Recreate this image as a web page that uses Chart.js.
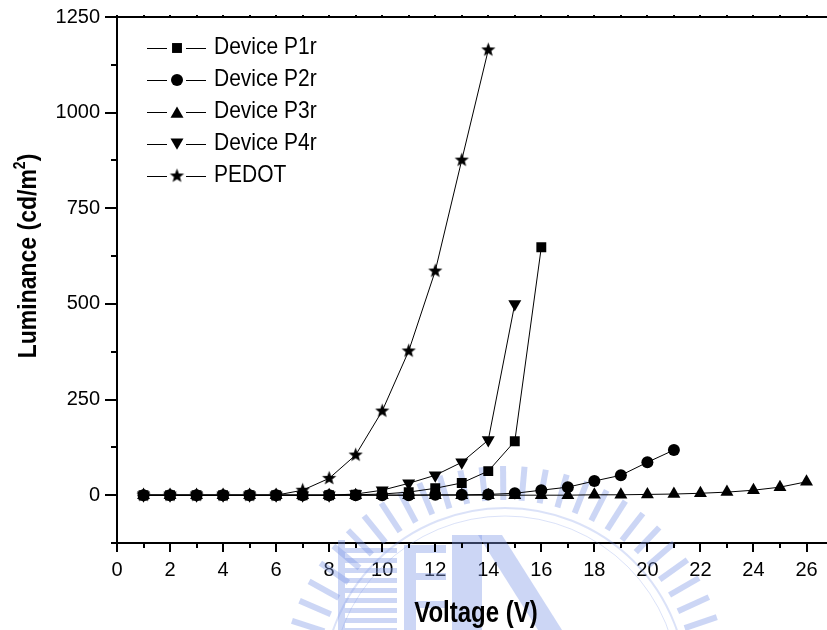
<!DOCTYPE html>
<html>
<head>
<meta charset="utf-8">
<script src="https://cdn.jsdelivr.net/npm/chart.js@4.4.1/dist/chart.umd.min.js"></script>
<style>
  html, body { margin: 0; padding: 0; background: #ffffff; }
  #wrap { width: 827px; height: 630px; position: relative; }
</style>
</head>
<body>
<div id="wrap"><canvas id="c" width="827" height="630"></canvas></div>
<script>
// Driving voltage (V) for each measured step
const voltage = [1, 2, 3, 4, 5, 6, 7, 8, 9, 10, 11, 12, 13, 14, 15, 16, 17, 18, 19, 20, 21, 22, 23, 24, 25, 26];

// Luminance (cd/m^2) per device, one value per voltage step
const lumP1r = [0, 0, 0, 0, 0, 0, 0, 0, 1, 3, 8, 18, 32, 63, 141, 648];
const lumP2r = [0, 0, 0, 0, 0, 0, 0, 0, 0, 0, 0, 1, 1, 2, 5, 13, 21, 37, 52, 86, 118];
const lumP3r = [0, 0, 0, 0, 0, 0, 0, 0, 0, 0, 0, 0, 0, 0, 0, 0, 0, 1, 1, 2, 3, 5, 8, 13, 21, 35];
const lumP4r = [0, 0, 0, 0, 0, 0, 0, 0, 3, 13, 31, 52, 86, 144, 500];
const lumPEDOT = [0, 0, 0, 0, 0, 0, 13, 44, 105, 220, 377, 586, 876, 1164];

const seriesNames = ['Device P1r', 'Device P2r', 'Device P3r', 'Device P4r', 'PEDOT'];

// Axis ticks
const xMajorStep = 2;
const xMinorStep = 1;
const yTickValues = [0, 250, 500, 750, 1000, 1250];
const yMinorStep = 125;

const FONT = '"Liberation Sans", Arial, Helvetica, sans-serif';

// Five-pointed star marker
function makeStar(R) {
  const s = Math.ceil(R * 2 + 2);
  const c = document.createElement('canvas');
  c.width = s; c.height = s;
  const g = c.getContext('2d');
  g.fillStyle = '#000';
  g.beginPath();
  for (let i = 0; i < 10; i++) {
    const r = i % 2 ? R * 0.42 : R;
    const a = -Math.PI / 2 + i * Math.PI / 5;
    g.lineTo(s / 2 + r * Math.cos(a), s / 2 + r * Math.sin(a));
  }
  g.closePath();
  g.fill();
  return c;
}
const starImg = makeStar(7.5);

function pts(values) {
  return values.map((v, i) => ({ x: voltage[i], y: v }));
}

const markers = [
  { pointStyle: 'rect', radius: 7, rotation: 0 },
  { pointStyle: 'circle', radius: 6, rotation: 0 },
  { pointStyle: 'triangle', radius: 7.5, rotation: 0 },
  { pointStyle: 'triangle', radius: 7.5, rotation: 180 },
  { pointStyle: starImg, radius: 7.5, rotation: 0 }
];
const seriesValues = [lumP1r, lumP2r, lumP3r, lumP4r, lumPEDOT];

const datasets = seriesValues.map((vals, i) => ({
  label: seriesNames[i],
  data: pts(vals),
  borderColor: '#000',
  backgroundColor: '#000',
  borderWidth: 1,
  pointStyle: markers[i].pointStyle,
  pointRadius: markers[i].radius,
  pointRotation: markers[i].rotation,
  pointBackgroundColor: '#000',
  pointBorderColor: '#000',
  pointBorderWidth: 0,
  tension: 0,
  fill: false
}));

// Faint institutional emblem printed behind the lower part of the plot
const emblemPlugin = {
  id: 'emblem',
  beforeDatasetsDraw(chart) {
    const ctx = chart.ctx;
    const cx = 505, cy = 690;
    ctx.save();
    ctx.globalAlpha = 0.4;
    ctx.fillStyle = '#7f98e6';
    ctx.strokeStyle = '#7f98e6';
    // radial stripes forming the outer wheel
    for (let deg = 0; deg < 360; deg += 5.5) {
      const a = deg * Math.PI / 180;
      ctx.save();
      ctx.translate(cx, cy);
      ctx.rotate(a);
      ctx.fillRect(190, -3, 34, 6);
      ctx.restore();
    }
    // inner rings
    ctx.globalAlpha = 0.28;
    ctx.lineWidth = 2;
    ctx.beginPath(); ctx.arc(cx, cy, 182, 0, Math.PI * 2); ctx.stroke();
    ctx.lineWidth = 1;
    ctx.beginPath(); ctx.arc(cx, cy, 174, 0, Math.PI * 2); ctx.stroke();
    ctx.globalAlpha = 0.4;
    // striped building
    for (let y = 548; y < 630; y += 10) ctx.fillRect(345, y, 52, 5);
    ctx.fillRect(338, 540, 7, 90);
    // central blocks
    ctx.fillRect(404, 545, 12, 85);
    ctx.fillRect(416, 545, 30, 8);
    ctx.fillRect(416, 573, 30, 7);
    ctx.fillRect(416, 601, 30, 7);
    ctx.fillRect(452, 535, 30, 95);
    // diagonal arrow shape
    ctx.beginPath();
    ctx.moveTo(478, 535); ctx.lineTo(502, 535); ctx.lineTo(562, 630);
    ctx.lineTo(538, 630);
    ctx.closePath();
    ctx.fill();
    ctx.restore();
  }
};

function drawMarker(ctx, m, x, y) {
  ctx.save();
  ctx.fillStyle = '#000';
  const r = m.radius;
  if (m.pointStyle === 'rect') {
    const s = Math.SQRT1_2 * r;
    ctx.fillRect(x - s, y - s, 2 * s, 2 * s);
  } else if (m.pointStyle === 'circle') {
    ctx.beginPath(); ctx.arc(x, y, r, 0, Math.PI * 2); ctx.fill();
  } else if (m.pointStyle === 'triangle') {
    ctx.translate(x, y);
    ctx.rotate(m.rotation * Math.PI / 180);
    ctx.beginPath();
    for (let k = 0; k < 3; k++) {
      const a = -Math.PI / 2 + k * 2 * Math.PI / 3;
      ctx.lineTo(r * Math.cos(a), r * Math.sin(a) + r * 0.25);
    }
    ctx.closePath(); ctx.fill();
  } else {
    ctx.drawImage(m.pointStyle, x - m.pointStyle.width / 2, y - m.pointStyle.height / 2);
  }
  ctx.restore();
}

// Axis frame, tick marks, titles and the line-and-marker legend
const framePlugin = {
  id: 'frame',
  afterDraw(chart) {
    const ctx = chart.ctx;
    const xs = chart.scales.x, ys = chart.scales.y;
    const area = chart.chartArea;
    ctx.save();
    ctx.strokeStyle = '#000';
    ctx.lineWidth = 2;
    // top frame line and bottom axis running to the edge
    ctx.beginPath();
    ctx.moveTo(area.left - 1, area.top);
    ctx.lineTo(827, area.top);
    ctx.moveTo(area.right - 2, area.bottom);
    ctx.lineTo(827, area.bottom);
    ctx.stroke();
    // x ticks
    for (let v = 0; v <= 26; v += xMinorStep) {
      const px = Math.round(xs.getPixelForValue(v));
      const len = v % xMajorStep === 0 ? 9 : 5;
      ctx.beginPath();
      ctx.moveTo(px, area.bottom);
      ctx.lineTo(px, area.bottom + len);
      ctx.stroke();
      ctx.beginPath();
      ctx.moveTo(px, area.top);
      ctx.lineTo(px, area.top - 2);
      ctx.stroke();
    }
    // y ticks
    for (let v = -125; v <= 1250; v += yMinorStep) {
      const py = Math.round(ys.getPixelForValue(v));
      const len = v % 250 === 0 ? 12 : 6;
      ctx.beginPath();
      ctx.moveTo(area.left, py);
      ctx.lineTo(area.left - len, py);
      ctx.stroke();
    }
    // axis titles
    ctx.fillStyle = '#000';
    ctx.font = 'bold 24px ' + FONT;
    ctx.textAlign = 'center';
    ctx.textBaseline = 'alphabetic';
    ctx.save();
    ctx.translate(476, 622);
    ctx.scale(1, 1.2);
    ctx.fillText('Voltage (V)', 0, 0);
    ctx.restore();

    ctx.save();
    ctx.translate(36, 256);
    ctx.rotate(-Math.PI / 2);
    ctx.scale(1, 1.15);
    ctx.font = 'bold 23px ' + FONT;
    const main = 'Luminance (cd/m';
    const wMain = ctx.measureText(main).width;
    ctx.font = 'bold 14px ' + FONT;
    const wSup = ctx.measureText('2').width;
    ctx.font = 'bold 23px ' + FONT;
    const wClose = ctx.measureText(')').width;
    const total = wMain + wSup + wClose;
    const x0 = -total / 2;
    ctx.textAlign = 'left';
    ctx.fillText(main, x0, 0);
    ctx.font = 'bold 14px ' + FONT;
    ctx.fillText('2', x0 + wMain, -10);
    ctx.font = 'bold 23px ' + FONT;
    ctx.fillText(')', x0 + wMain + wSup, 0);
    ctx.restore();

    // legend
    ctx.font = '21px ' + FONT;
    ctx.textAlign = 'left';
    ctx.textBaseline = 'middle';
    ctx.lineWidth = 1;
    ctx.strokeStyle = '#000';
    for (let i = 0; i < seriesNames.length; i++) {
      const y = 48 + i * 32;
      ctx.beginPath();
      ctx.moveTo(147, y + 0.5); ctx.lineTo(167, y + 0.5);
      ctx.moveTo(186, y + 0.5); ctx.lineTo(206, y + 0.5);
      ctx.stroke();
      drawMarker(ctx, markers[i], 177, y);
      ctx.save();
      ctx.translate(214, y);
      ctx.scale(1, 1.12);
      ctx.fillText(seriesNames[i], 0, 0);
      ctx.restore();
    }
    ctx.restore();
  }
};

function noOverhang(scale) {
  scale.paddingTop = 0;
  scale.paddingBottom = 0;
  scale.paddingLeft = 0;
  scale.paddingRight = 0;
}

new Chart(document.getElementById('c'), {
  type: 'line',
  data: { datasets },
  options: {
    responsive: false,
    animation: false,
    devicePixelRatio: 1,
    layout: { padding: { top: 17, right: 0, left: 0, bottom: 0 } },
    plugins: {
      legend: { display: false },
      tooltip: { enabled: false }
    },
    scales: {
      x: {
        type: 'linear',
        min: 0,
        max: 26.49,
        afterFit(scale) { scale.height = 87; noOverhang(scale); },
        border: { display: true, color: '#000', width: 2 },
        grid: { display: false, drawTicks: false },
        ticks: {
          stepSize: xMinorStep,
          includeBounds: false,
          autoSkip: false,
          maxRotation: 0,
          padding: 15,
          color: '#000',
          font: { family: FONT, size: 20 },
          callback: (v) => (v % xMajorStep === 0 ? String(v) : '')
        }
      },
      y: {
        type: 'linear',
        min: -125,
        max: 1250,
        afterFit(scale) { scale.width = 117; noOverhang(scale); },
        border: { display: true, color: '#000', width: 2 },
        grid: { display: false, drawTicks: false },
        ticks: {
          stepSize: yMinorStep,
          autoSkip: false,
          padding: 17,
          color: '#000',
          font: { family: FONT, size: 20 },
          callback: (v) => (yTickValues.includes(v) ? String(v) : '')
        }
      }
    }
  },
  plugins: [emblemPlugin, framePlugin]
});
</script>
</body>
</html>
